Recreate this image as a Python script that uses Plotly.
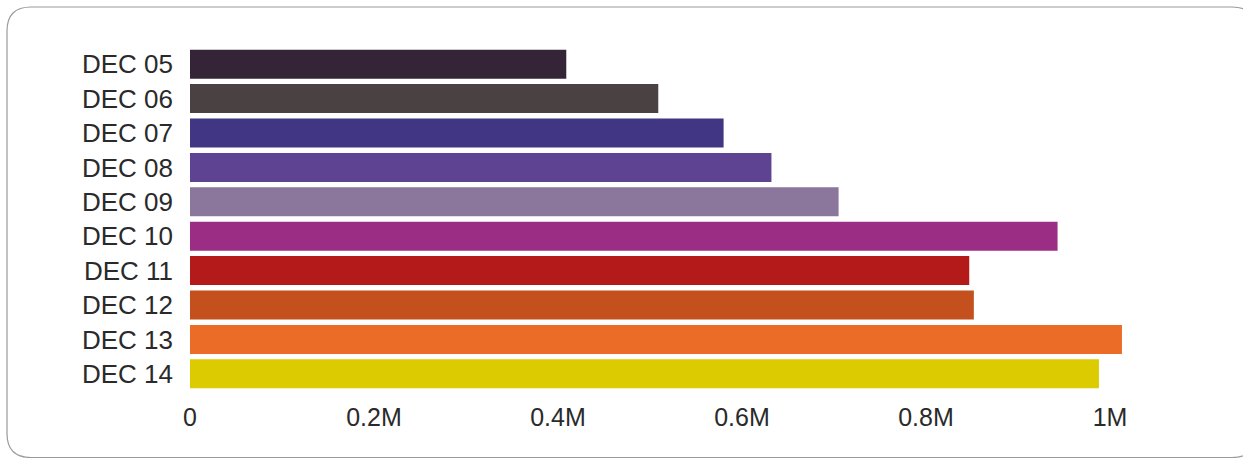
import plotly.graph_objects as go

categories = ["DEC 05", "DEC 06", "DEC 07", "DEC 08", "DEC 09",
              "DEC 10", "DEC 11", "DEC 12", "DEC 13", "DEC 14"]
values = [409000, 509000, 580000, 632000, 705000,
          943000, 847000, 852000, 1013000, 988000]
colors = ["#352338", "#4a4143", "#403683", "#5f4393", "#8a779b",
          "#9b2d84", "#b51a1b", "#c4501e", "#ea6c27", "#dccb00"]
tick_vals = [0, 200000, 400000, 600000, 800000, 1000000]
tick_text = ["0", "0.2M", "0.4M", "0.6M", "0.8M", "1M"]

W, H = 1243, 458
ml, mr, mt, mb = 190, 93, 47, 67
pw, ph = W - ml - mr, H - mt - mb

fig = go.Figure(go.Bar(
    y=categories, x=values, orientation="h",
    marker=dict(color=colors, line=dict(width=0)),
    hoverinfo="x+y",
))

# rounded border box (pixel -> paper conversion)
def px(x):
    return (x - ml) / pw

def py(y):
    return (H - mb - y) / ph

x0, x1, y0, y1, r = 7, 1256, 7, 457.5, 24
path = (
    f"M {px(x0 + r)} {py(y0)} L {px(x1 - r)} {py(y0)} "
    f"Q {px(x1)} {py(y0)} {px(x1)} {py(y0 + r)} "
    f"L {px(x1)} {py(y1 - r)} Q {px(x1)} {py(y1)} {px(x1 - r)} {py(y1)} "
    f"L {px(x0 + r)} {py(y1)} Q {px(x0)} {py(y1)} {px(x0)} {py(y1 - r)} "
    f"L {px(x0)} {py(y0 + r)} Q {px(x0)} {py(y0)} {px(x0 + r)} {py(y0)} Z"
)

fig.update_layout(
    width=W, height=H,
    margin=dict(l=ml, r=mr, t=mt, b=mb, pad=0),
    paper_bgcolor="white", plot_bgcolor="white",
    bargap=0.156,
    showlegend=False,
    font=dict(family="Liberation Sans, Arial, sans-serif", size=26, color="#2a2a2a"),
    xaxis=dict(range=[0, pw / 920 * 1e6], tickvals=tick_vals, ticktext=tick_text,
               tickfont=dict(size=25),
               showgrid=False, zeroline=False, showline=False,
               ticks="", ticklabelstandoff=9, fixedrange=True),
    yaxis=dict(autorange="reversed", showgrid=False, zeroline=False, showline=False,
               ticks="", ticklabelstandoff=16, fixedrange=True),
    shapes=[dict(type="path", path=path, xref="paper", yref="paper",
                 line=dict(color="#9a9a9a", width=1.2), fillcolor="rgba(0,0,0,0)",
                 layer="below")],
)

fig.write_html("out.html", config={"displayModeBar": False},
               post_script="document.body.style.margin='0';document.body.style.overflow='hidden';")
